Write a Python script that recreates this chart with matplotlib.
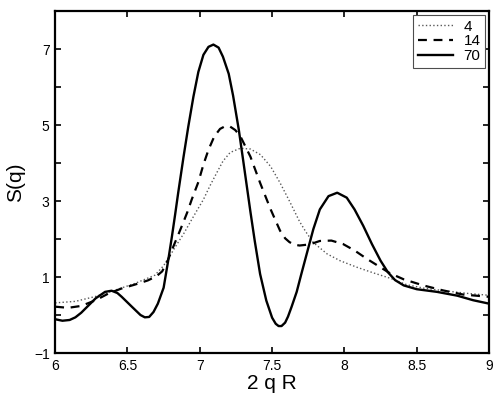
import matplotlib
matplotlib.use("Agg")
import matplotlib.pyplot as plt

plt.rcParams['font.family'] = ['Liberation Sans', 'DejaVu Sans']

# N = 4 (tockasta linija)
x_4 = [6.00, 6.14, 6.28, 6.41, 6.55, 6.69, 6.75, 6.80, 6.84, 6.89, 6.933,
       6.98, 7.025, 7.07, 7.118, 7.16, 7.21, 7.28, 7.35, 7.42, 7.49, 7.555,
       7.62, 7.69, 7.735, 7.785, 7.88, 7.97, 8.085, 8.20, 8.315, 8.43,
       8.545, 8.71, 8.85, 9.00]
y_4 = [0.32, 0.36, 0.49, 0.65, 0.83, 1.05, 1.30, 1.60, 1.85, 2.15, 2.44,
       2.75, 3.04, 3.40, 3.75, 4.05, 4.28, 4.39, 4.37, 4.22, 3.91, 3.48,
       3.00, 2.46, 2.18, 1.91, 1.61, 1.43, 1.26, 1.11, 0.97, 0.80,
       0.71, 0.63, 0.57, 0.52]

# N = 14 (isprekidana linija)
x_14 = [6.00, 6.09, 6.18, 6.28, 6.37, 6.46, 6.55, 6.64, 6.70, 6.74, 6.78,
        6.82, 6.855, 6.887, 6.915, 6.945, 6.99, 7.025, 7.06, 7.10, 7.14,
        7.175, 7.21, 7.245, 7.28, 7.35, 7.417, 7.49, 7.555, 7.59, 7.62,
        7.655, 7.69, 7.76, 7.83, 7.91, 7.99, 8.07, 8.155, 8.235, 8.315,
        8.41, 8.545, 8.68, 8.82, 9.00]
y_14 = [0.22, 0.19, 0.24, 0.39, 0.57, 0.70, 0.80, 0.91, 1.02, 1.15, 1.45,
        1.83, 2.15, 2.45, 2.72, 3.05, 3.50, 3.96, 4.35, 4.70, 4.90,
        4.97, 4.96, 4.87, 4.71, 4.17, 3.48, 2.78, 2.22, 2.02, 1.92,
        1.85, 1.83, 1.86, 1.95, 1.96, 1.87, 1.70, 1.48, 1.29, 1.10,
        0.94, 0.78, 0.65, 0.54, 0.48]

# N = 70 (puna linija)
x_70 = [6.00, 6.05, 6.10, 6.14, 6.18, 6.23, 6.28, 6.345, 6.39, 6.43, 6.46,
        6.53, 6.59, 6.62, 6.65, 6.68, 6.71, 6.75, 6.78, 6.807, 6.83, 6.85,
        6.887, 6.92, 6.956, 6.99, 7.025, 7.06, 7.094, 7.13, 7.16, 7.20,
        7.23, 7.27, 7.30, 7.35, 7.38, 7.417, 7.46, 7.50, 7.525, 7.545,
        7.565, 7.59, 7.61, 7.635, 7.67, 7.70, 7.74, 7.785, 7.83, 7.89,
        7.95, 8.016, 8.07, 8.13, 8.19, 8.25, 8.30, 8.35, 8.41, 8.50, 8.64,
        8.78, 8.89, 9.00]
y_70 = [-0.11, -0.15, -0.13, -0.06, 0.06, 0.25, 0.44, 0.61, 0.64, 0.58, 0.48,
        0.22, 0.00, -0.06, -0.05, 0.08, 0.30, 0.72, 1.40, 2.06, 2.66, 3.20,
        4.15, 4.95, 5.75, 6.40, 6.85, 7.06, 7.12, 7.04, 6.80, 6.35,
        5.78, 4.87, 4.07, 2.72, 1.95, 1.08, 0.38, -0.07, -0.23, -0.29,
        -0.29, -0.20, -0.04, 0.22, 0.61, 1.05, 1.62, 2.26, 2.78, 3.13,
        3.22, 3.09, 2.78, 2.35, 1.87, 1.43, 1.13, 0.92, 0.78, 0.68, 0.61,
        0.51, 0.39, 0.30]

x_ticks = [6, 6.5, 7, 7.5, 8, 8.5, 9]
x_tick_labels = ['6', '6.5', '7', '7.5', '8', '8.5', '9']
y_ticks = [-1, 0, 1, 2, 3, 4, 5, 6, 7, 8]
y_tick_labels = ['\u22121', '', '1', '', '3', '', '5', '', '7', '']

fig = plt.figure(figsize=(4.97, 3.98), dpi=100)
ax = fig.add_axes([0.111, 0.113, 0.873, 0.859])

ax.plot(x_4, y_4, linestyle=':', color='0.35', linewidth=1.0, label='4')
ax.plot(x_14, y_14, linestyle=(0, (4, 3)), color='black', linewidth=1.6,
        label='14')
ax.plot(x_70, y_70, linestyle='-', color='black', linewidth=1.7, label='70',
        solid_joinstyle='round')

ax.set_xlim(6, 9)
ax.set_ylim(-1, 8)
ax.set_xticks(x_ticks)
ax.set_xticklabels(x_tick_labels)
ax.set_yticks(y_ticks)
ax.set_yticklabels(y_tick_labels)
ax.tick_params(direction='in', length=4, width=1.2, top=True, right=True,
               labelsize=10, pad=4)

for spine in ax.spines.values():
    spine.set_linewidth(1.6)

ax.set_xlabel('2 q R', fontsize=15, labelpad=1)
ax.set_ylabel('S(q)', fontsize=15, labelpad=6)

leg = ax.legend(loc='upper right', fontsize=11, handlelength=2.3,
                borderaxespad=0.25, fancybox=False, framealpha=1,
                labelspacing=0.05, borderpad=0.3, handletextpad=0.7)
leg.get_frame().set_edgecolor('0.3')
leg.get_frame().set_linewidth(0.8)

plt.savefig('out.png', dpi=100)
